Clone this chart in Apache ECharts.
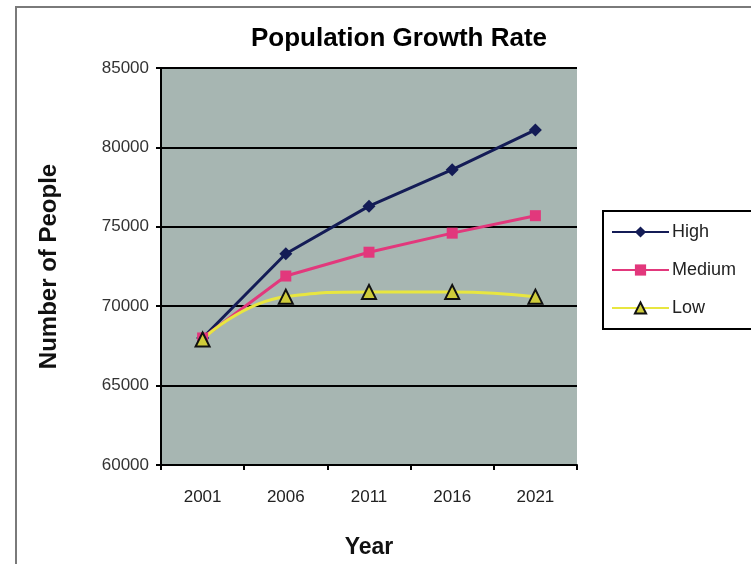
<!DOCTYPE html>
<html>
<head>
<meta charset="utf-8">
<script src="https://cdn.jsdelivr.net/npm/echarts@6/dist/echarts.min.js"></script>
<style>
  html, body { margin: 0; padding: 0; background: #fff; }
  #chart { width: 751px; height: 564px; }
</style>
</head>
<body>
<div id="chart"></div>
<script>
// values
let years = ['2001', '2006', '2011', '2016', '2021'];
let high = [68000, 73300, 76300, 78600, 81100];
let medium = [68000, 71900, 73400, 74600, 75700];
let low = [67900, 70600, 70900, 70900, 70600];
let yTicks = { min: 60000, max: 85000, step: 5000 };

let font = 'Liberation Sans, Arial, sans-serif';

let chart = echarts.init(document.getElementById('chart'));

let option = {
    backgroundColor: '#ffffff',
    animation: false,
    title: {
        text: 'Population Growth Rate',
        left: 394,
        top: 21,
        textAlign: 'center',
        textStyle: { fontFamily: font, fontSize: 26, fontWeight: 'bold', color: '#000' }
    },
    graphic: [{
        type: 'rect',
        shape: { x: 16, y: 7, width: 800, height: 620 },
        style: { fill: 'none', stroke: '#7a7a7a', lineWidth: 2 },
        silent: true
    }],
    legend: {
        orient: 'vertical',
        left: 603,
        top: 211,
        padding: [12, 40, 12, 8],
        itemGap: 20,
        itemWidth: 57,
        itemHeight: 14,
        borderColor: '#000',
        borderWidth: 2,
        textStyle: { fontFamily: font, fontSize: 18, color: '#222', padding: [0, 0, 0, -2] },
        data: ['High', 'Medium', 'Low']
    },
    grid: {
        left: 161,
        top: 68,
        width: 416,
        height: 398,
        show: true,
        backgroundColor: '#a7b6b2',
        borderWidth: 0
    },
    xAxis: {
        type: 'category',
        data: years,
        boundaryGap: true,
        name: 'Year',
        nameLocation: 'middle',
        nameGap: 71,
        nameTextStyle: { fontFamily: font, fontSize: 23, fontWeight: 'bold', color: '#111' },
        axisLine: { lineStyle: { color: '#000', width: 2 } },
        axisTick: { show: true, length: 5, lineStyle: { color: '#000', width: 2 } },
        axisLabel: { fontFamily: font, fontSize: 17, color: '#222', margin: 24 },
        splitLine: { show: false }
    },
    yAxis: {
        type: 'value',
        min: yTicks.min,
        max: yTicks.max,
        interval: yTicks.step,
        name: 'Number of People',
        nameLocation: 'middle',
        nameGap: 100,
        nameTextStyle: { fontFamily: font, fontSize: 24, fontWeight: 'bold', color: '#111' },
        axisLine: { show: true, lineStyle: { color: '#000', width: 2 } },
        axisTick: { show: true, length: 5, lineStyle: { color: '#000', width: 2 } },
        axisLabel: {
            fontFamily: font, fontSize: 17, color: '#333', margin: 12,
            formatter: (v) => String(v)
        },
        splitLine: { show: true, lineStyle: { color: '#000', width: 2 } }
    },
    series: [
        {
            name: 'High',
            type: 'line',
            data: high,
            symbol: 'diamond',
            symbolSize: 13,
            lineStyle: { color: '#141c56', width: 3 },
            itemStyle: { color: '#141c56' }
        },
        {
            name: 'Medium',
            type: 'line',
            data: medium,
            symbol: 'rect',
            symbolSize: 11,
            lineStyle: { color: '#e2387c', width: 3 },
            itemStyle: { color: '#e2387c' }
        },
        {
            name: 'Low',
            type: 'line',
            data: low,
            smooth: 0.5,
            symbol: 'triangle',
            symbolSize: 14,
            lineStyle: { color: '#e8e640', width: 3 },
            itemStyle: { color: '#cfcc3a', borderColor: '#111', borderWidth: 2 }
        }
    ]
};

chart.setOption(option);
</script>
</body>
</html>
